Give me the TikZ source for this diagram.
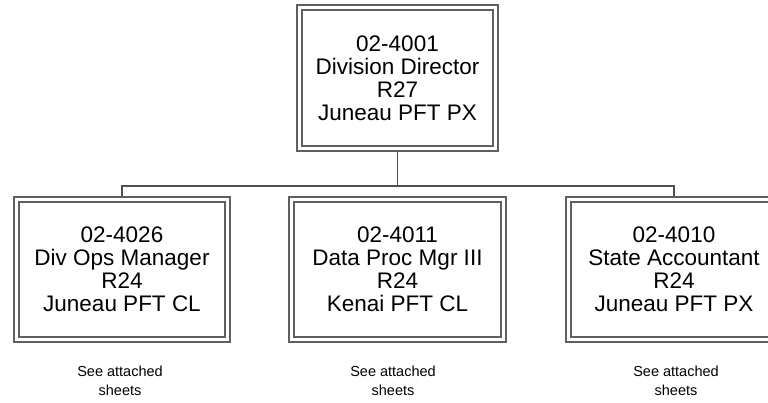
\documentclass[tikz,border=0pt]{standalone}
\usepackage{fontspec}
\setmainfont{Liberation Sans}
\begin{document}
\begin{tikzpicture}[x=1pt,y=-1pt,
  posbox/.style={draw={rgb,255:red,95;green,95;blue,95}, line width=1.5pt, double=white, double distance=3.5pt,
    rectangle, inner sep=0pt, outer sep=3.25pt, align=center,
    font=\fontsize{22.5}{23}\selectfont},
  conn/.style={draw={rgb,255:red,80;green,80;blue,80}, line width=1.4pt},
  note/.style={align=center, font=\fontsize{14.5}{19}\selectfont}]
\useasboundingbox (0,0) rectangle (768,403);
\clip (0,0) rectangle (768,403);
\node[posbox, minimum width=196pt, minimum height=141pt] (top) at (397.5,78)
  {02-4001\\Division Director\\R27\\Juneau PFT PX};
\node[posbox, minimum width=211pt, minimum height=140pt] (b1) at (122,269.5)
  {02-4026\\Div Ops Manager\\R24\\Juneau PFT CL};
\node[posbox, minimum width=212pt, minimum height=140pt] (b2) at (397.5,269.5)
  {02-4011\\Data Proc Mgr III\\R24\\Kenai PFT CL};
\node[posbox, minimum width=211pt, minimum height=140pt] (b3) at (674,269.5)
  {02-4010\\State Accountant\\R24\\Juneau PFT PX};
\coordinate (bus) at (0,186);
\draw[conn] (top.south) -- (top.south |- bus);
\draw[conn] (b1.north) -- (b1.north |- bus) -- (b3.north |- bus) -- (b3.north);
\node[note] (n1) at (120,381) {See attached\\sheets};
\node[note] (n2) at (393,381) {See attached\\sheets};
\node[note] (n3) at (676,381) {See attached\\sheets};
\end{tikzpicture}
\end{document}
